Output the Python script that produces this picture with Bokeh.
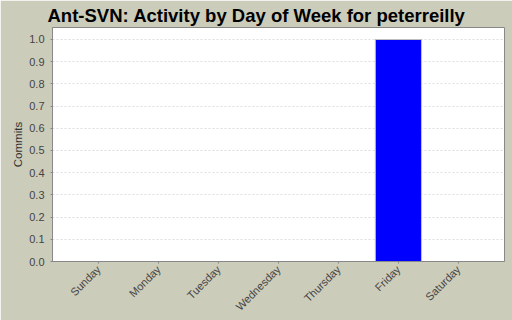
import math
from bokeh.plotting import figure
from bokeh.models import FactorRange, Range1d, ColumnDataSource, SingleIntervalTicker, PrintfTickFormatter
from bokeh.embed import file_html
from bokeh.resources import INLINE

days = ["Sunday", "Monday", "Tuesday", "Wednesday", "Thursday", "Friday", "Saturday"]
commits = [0, 0, 0, 0, 0, 1, 0]
title_text = "Ant-SVN: Activity by Day of Week for peterreilly"

BG = "#CCCCBB"
FONT = "Liberation Sans"

src = ColumnDataSource(dict(day=days, commits=commits))

p = figure(width=512, height=320, output_backend="svg", toolbar_location=None,
           x_range=FactorRange(factors=days, range_padding=0.27, range_padding_units="absolute"),
           y_range=Range1d(0, 1.054),
           background_fill_color="white", border_fill_color=BG,
           min_border_left=52, min_border_right=8, min_border_top=10, min_border_bottom=59,
           title=title_text)

p.title.align = "left"
p.title.offset = -5
p.title.standoff = 4
p.title.text_font = FONT
p.title.text_font_size = "18.5px"
p.title.text_font_style = "bold"
p.title.text_color = "black"

p.vbar(x="day", top="commits", width=0.77, source=src,
       fill_color="#0000FF", line_color="#C0C0C0", line_width=1)

p.outline_line_color = "#888888"
p.xgrid.grid_line_color = None
p.ygrid.grid_line_color = "#DDDDDD"
p.ygrid.grid_line_dash = "2 2"

p.yaxis.ticker = SingleIntervalTicker(interval=0.1)
p.yaxis.formatter = PrintfTickFormatter(format="%.1f")
p.yaxis.axis_label = "Commits"
p.yaxis.axis_label_text_font = FONT
p.yaxis.axis_label_text_font_size = "11.5px"
p.yaxis.axis_label_text_font_style = "normal"
p.yaxis.axis_label_text_color = "#333333"
p.yaxis.axis_label_standoff = 2
p.yaxis.minor_tick_line_color = None

for ax in (p.xaxis, p.yaxis):
    ax.axis_line_color = "#888888"
    ax.major_tick_line_color = "#888888"
    ax.major_tick_out = 2
    ax.major_tick_in = 0
    ax.major_label_text_font = FONT
    ax.major_label_text_font_size = "11px"
    ax.major_label_text_color = "#444444"
    ax.major_label_standoff = 4

p.xaxis.major_label_orientation = math.pi / 4

open("out.html", "w").write(file_html(p, INLINE))
